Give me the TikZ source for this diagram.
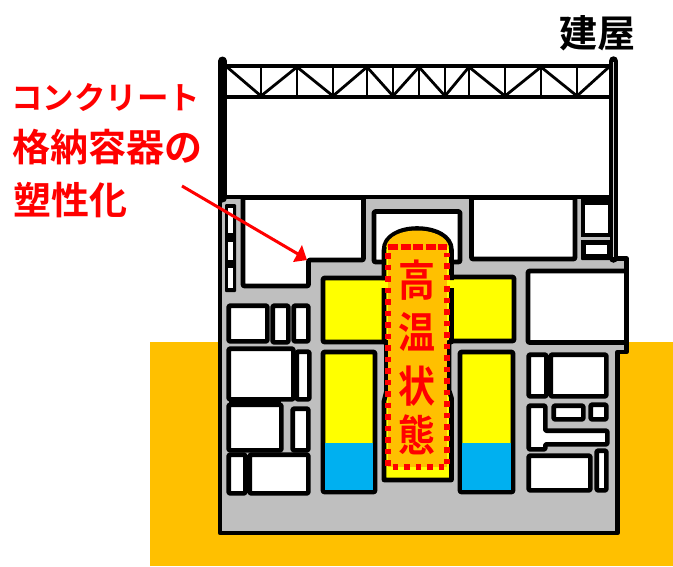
\documentclass[tikz,border=0pt]{standalone}
\usepackage{fontspec}
\newfontfamily\cjkb[BoldFont={Noto Sans CJK JP Bold}]{Noto Sans CJK JP}
\definecolor{ground}{HTML}{FFC000}
\definecolor{concrete}{HTML}{BFBFBF}
\definecolor{pool}{HTML}{00B0F0}
\definecolor{hot}{HTML}{FFFF00}
\definecolor{alarm}{HTML}{FF0000}
\newcommand{\narrowch}[1]{\scalebox{.86}[1]{#1}}
\tikzset{
  wall/.style={draw=black,line width=4.6pt,line join=round},
  room/.style={wall,fill=white,rounded corners=1pt},
  chamber/.style={wall,fill=hot,rounded corners=1pt},
  truss/.style={draw=black,line width=2.8pt},
  redlabel/.style={text=alarm,inner sep=0pt},
  bigred/.style={redlabel,font=\cjkb\bfseries\fontsize{43}{43}\selectfont},
  dots/.style={draw=alarm,line width=5.5pt,dash pattern=on 5.5pt off 6pt},
}
\begin{document}
\begin{tikzpicture}[x=1pt,y=-1pt]
\useasboundingbox (0,0) rectangle (673,566);
\fill[white] (0,0) rectangle (673,566);
% ground
\fill[ground] (150,342) rectangle (673,566);
% building body
\draw[wall,fill=concrete] (220,197) -- (220,533) -- (617.5,533) -- (617.5,352) -- (626.5,352) -- (626.5,258.5) -- (615,258.5) -- (615,197) -- cycle;
% upper walls
\draw[black,line width=9pt,line cap=round] (222.5,61) -- (222.5,198);
\draw[black,line width=9.5pt,line cap=round] (613.5,61) -- (613.5,258);
\draw[concrete!70!white,line width=1.6pt] (613.5,62) -- (613.5,257);
\fill[white] (227,100) rectangle (608.7,194.7);
% truss
\draw[truss,line width=3.8pt] (223,66) -- (613,66) (223,97) -- (613,97);
\foreach \x in {261,297,333,367,393,419,445,469,505,541,577}
  \draw[truss] (\x,66) -- (\x,97);
\draw[truss,line join=round] (227,67) -- (261,96) -- (297,67) -- (333,96) -- (367,67) -- (393,96) -- (419,67) -- (445,96) -- (469,67) -- (505,96) -- (541,67) -- (577,96) -- (609,67);
% main upper rooms
\draw[room] (243,197.5) -- (363.5,197.5) -- (363.5,260) -- (308.5,260) -- (308.5,286) -- (243,286) -- cycle;
\draw[room] (374,211.5) -- (460,211.5) -- (460,262) -- (374,262) -- cycle;
\draw[room] (471.5,197.5) -- (575,197.5) -- (575,259) -- (471.5,259) -- cycle;
\draw[room] (528,271) -- (626.5,271) -- (626.5,342.5) -- (528,342.5) -- cycle;
% left slots
\fill[black,rounded corners=1pt] (225,204) rectangle (236,292);
\foreach \a/\b in {208/233,242/260,268/288}
  \fill[white] (227.5,\a) rectangle (233,\b);
% right upper small rooms
\fill[black,rounded corners=1pt] (581,197) rectangle (612,260);
\fill[white] (585,205) rectangle (608,233);
\fill[concrete] (581,237) rectangle (610,240);
\fill[white] (586,245) rectangle (607,254);
% small rooms: interior x1/y1/x2/y2
\foreach \xa/\ya/\xb/\yb in {
  231/308/265/339, 275/308/286/340, 296/308/306/339,
  231/351/291/397, 299/354/307/397,
  231/407/279/448, 295/411/306/448,
  231/457/243/491, 252/457/306/491,
  531/357/544/394, 553/357/604/394,
  556/408/581/417, 593/407/604/417,
  531/458/588/488, 599/453/604/488}
  \draw[room] (\xa-2.3,\ya-2.3) rectangle (\xb+2.3,\yb+2.3);
\fill[black] (243,455) rectangle (252,493);
\fill[black] (291,352) rectangle (299,399);
\fill[black] (229,397) rectangle (281,407);
\fill[black] (544,355) rectangle (553,396);
\draw[room] (528.7,405.7) -- (545.3,405.7) -- (545.3,430.7) -- (607.3,430.7) -- (607.3,444.3) -- (545.3,444.3) -- (545.3,449.3) -- (528.7,449.3) -- cycle;
% yellow chambers
\draw[chamber] (323,278) rectangle (390,342);
\draw[chamber] (445,277) rectangle (514,341);
\draw[chamber] (323,352) rectangle (375,492);
\draw[chamber] (460,352) rectangle (513,492);
\fill[pool] (325,443) rectangle (373,490);
\fill[pool] (462,443) rectangle (511,490);
% reactor vessel
\draw[wall,fill=hot] (384,280) -- (384,250) .. controls (384,236) and (400,228.5) .. (417,228.5) .. controls (435,228.5) and (451.5,236) .. (451.5,250) -- (451.5,280);
\fill[hot] (386,278) rectangle (450,290);
\draw[wall,fill=hot] (384,288) -- (384,342) -- (386.5,342) -- (386.5,391) -- (384,401) -- (384,480) -- (451.5,480) -- (451.5,398) -- (449,390) -- (449,342) -- (451.5,342) -- (451.5,288);
\fill[ground] (386,247) .. controls (388,236) and (402,230.5) .. (417,230.5) .. controls (432,230.5) and (447,236) .. (449,247) -- cycle;
\fill[ground] (388,247) rectangle (447,467);
\draw[draw=alarm,line width=5.5pt,dash pattern=on 10pt off 2.5pt] (388,247) -- (447,247);
\draw[dots] (388,253) -- (388,467) -- (447,467) -- (447,253);
% texts
\node[bigred] (t1) at (417,280) {\narrowch{高}};
\node[bigred] (t2) at (417,332) {\narrowch{温}};
\node[bigred] (t3) at (417,386) {\narrowch{状}};
\node[bigred] (t4) at (417,435) {\narrowch{態}};
\node[redlabel,font=\cjkb\bfseries\fontsize{31.5}{32}\selectfont,anchor=west] (l1) at (11,97) {コンクリート};
\node[redlabel,font=\cjkb\bfseries\fontsize{38}{38}\selectfont,anchor=west] (l2) at (12,147) {格納容器の};
\node[redlabel,font=\cjkb\bfseries\fontsize{38}{38}\selectfont,anchor=west] (l3) at (13,200) {塑性化};
\node[inner sep=0pt,font=\cjkb\bfseries\fontsize{38}{38}\selectfont,anchor=west] (b) at (559,33) {建屋};
% arrow
\coordinate (as) at (182,186);
\coordinate (ae) at (307,260);
\fill[alarm] (ae) -- (293,262) -- (302,245) -- cycle;
\draw[alarm,line width=3pt] (as) -- (298,254);
\end{tikzpicture}
\end{document}
